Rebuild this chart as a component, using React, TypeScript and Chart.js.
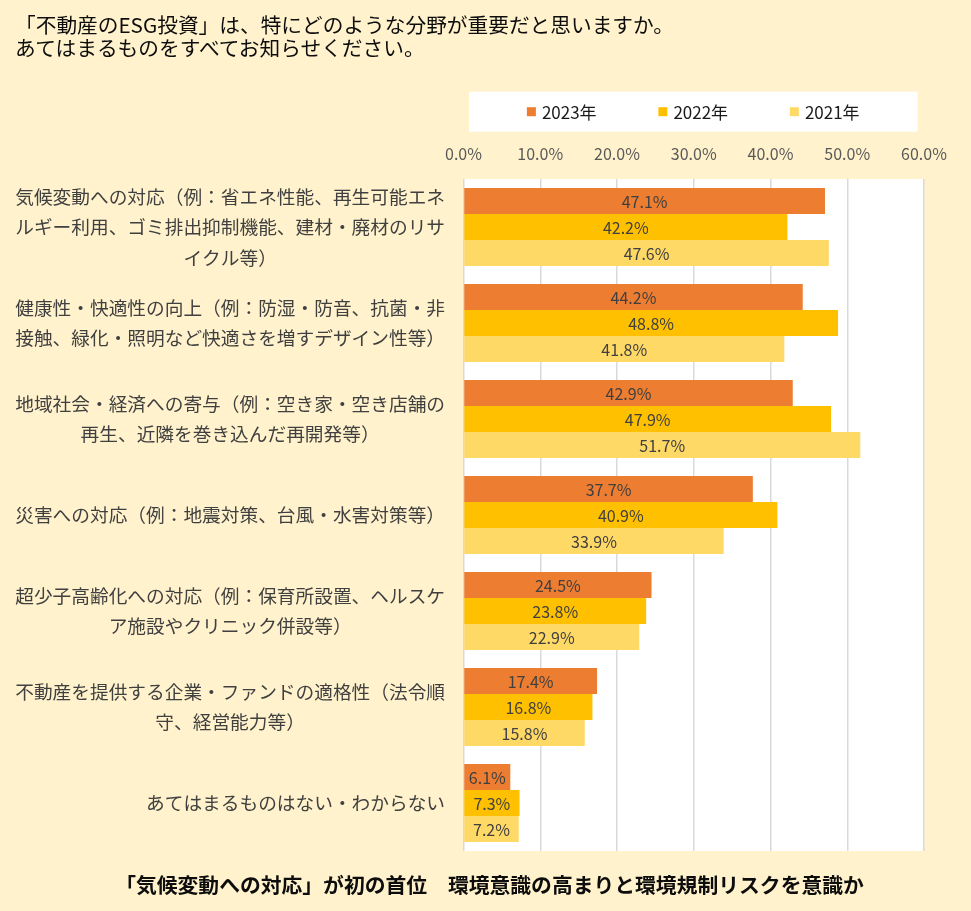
import React, { useEffect, useRef } from 'react';
import { Chart, registerables } from 'chart.js';

Chart.register(...registerables);

const titleLines = [
  '「不動産のESG投資」は、特にどのような分野が重要だと思いますか。',
  'あてはまるものをすべてお知らせください。',
];
const footnote = '「気候変動への対応」が初の首位　環境意識の高まりと環境規制リスクを意識か';

const categories: string[][] = [
  ['気候変動への対応（例：省エネ性能、再生可能エネ', 'ルギー利用、ゴミ排出抑制機能、建材・廃材のリサ', 'イクル等）'],
  ['健康性・快適性の向上（例：防湿・防音、抗菌・非', '接触、緑化・照明など快適さを増すデザイン性等）'],
  ['地域社会・経済への寄与（例：空き家・空き店舗の', '再生、近隣を巻き込んだ再開発等）'],
  ['災害への対応（例：地震対策、台風・水害対策等）'],
  ['超少子高齢化への対応（例：保育所設置、ヘルスケ', 'ア施設やクリニック併設等）'],
  ['不動産を提供する企業・ファンドの適格性（法令順', '守、経営能力等）'],
  ['あてはまるものはない・わからない'],
];

const seriesNames = ['2023年', '2022年', '2021年'];
const values2023 = [47.1, 44.2, 42.9, 37.7, 24.5, 17.4, 6.1];
const values2022 = [42.2, 48.8, 47.9, 40.9, 23.8, 16.8, 7.3];
const values2021 = [47.6, 41.8, 51.7, 33.9, 22.9, 15.8, 7.2];
const seriesColors = ['#ED7D31', '#FFC000', '#FFD966'];
const xTickValues = [0, 10, 20, 30, 40, 50, 60];

const JP = "'Noto Sans CJK JP', 'Noto Sans', sans-serif";

const plotBg = {
  id: 'plotBg',
  beforeDraw(chart: any) {
    const { ctx, chartArea } = chart;
    ctx.save();
    ctx.fillStyle = '#FFFFFF';
    ctx.fillRect(chartArea.left, chartArea.top, chartArea.right - chartArea.left, chartArea.bottom - chartArea.top);
    ctx.restore();
  },
};

const legendBox = {
  id: 'legendBox',
  afterDraw(chart: any) {
    const { ctx, chartArea } = chart;
    const left = chartArea.left + 5.5;
    const right = chartArea.right - 6.5;
    const top = chartArea.top - 87.3;
    const h = 40;
    ctx.save();
    ctx.fillStyle = '#FFFFFF';
    ctx.fillRect(left, top, right - left, h);
    ctx.font = `17px ${JP}`;
    ctx.textBaseline = 'middle';
    ctx.textAlign = 'left';
    const box = 9;
    const gap = 6;
    const slot = 131.5;
    const ds = chart.data.datasets;
    const lastW = box + gap + ctx.measureText(ds[ds.length - 1].label).width;
    const total = slot * (ds.length - 1) + lastW;
    const start = (left + right) / 2 - total / 2;
    const cy = top + h / 2;
    ds.forEach((d: any, i: number) => {
      const x0 = start + i * slot;
      ctx.fillStyle = d.backgroundColor;
      ctx.fillRect(x0, cy - box / 2, box, box);
      ctx.fillStyle = '#1A1A1A';
      ctx.fillText(d.label, x0 + box + gap, cy + 0.5);
    });
    ctx.restore();
  },
};

const yLabels = {
  id: 'yLabels',
  afterDraw(chart: any) {
    const { ctx, chartArea } = chart;
    const yScale = chart.scales.y;
    const labels = chart.data.labels as string[][];
    ctx.save();
    ctx.font = `18.7px ${JP}`;
    ctx.fillStyle = '#404040';
    ctx.textBaseline = 'middle';
    const rightEdge = chartArea.left - 18.5;
    let widest = 0;
    labels.forEach((lines) => lines.forEach((ln) => { widest = Math.max(widest, ctx.measureText(ln).width); }));
    const center = rightEdge - widest / 2;
    const lh = 30.5;
    labels.forEach((lines, i) => {
      const yc = yScale.getPixelForTick(i);
      const y0 = yc - ((lines.length - 1) * lh) / 2;
      lines.forEach((ln, j) => {
        if (lines.length > 1) {
          ctx.textAlign = 'center';
          ctx.fillText(ln, center, y0 + j * lh);
        } else {
          ctx.textAlign = 'right';
          ctx.fillText(ln, rightEdge, y0 + j * lh);
        }
      });
    });
    ctx.restore();
  },
};

const dataLabels = {
  id: 'dataLabels',
  afterDatasetsDraw(chart: any) {
    const { ctx } = chart;
    ctx.save();
    ctx.font = `16px ${JP}`;
    ctx.fillStyle = '#404040';
    ctx.textAlign = 'center';
    ctx.textBaseline = 'middle';
    chart.data.datasets.forEach((ds: any, di: number) => {
      const meta = chart.getDatasetMeta(di);
      meta.data.forEach((bar: any, i: number) => {
        const v = ds.data[i] as number;
        ctx.fillText(v.toFixed(1) + '%', (bar.x + bar.base) / 2, bar.y + 0.5);
      });
    });
    ctx.restore();
  },
};

export default function App() {
  const ref = useRef<HTMLCanvasElement>(null);

  useEffect(() => {
    const seriesValues = [values2023, values2022, values2021];
    const chart = new Chart(ref.current as HTMLCanvasElement, {
      type: 'bar',
      data: {
        labels: categories as any,
        datasets: seriesNames.map((name, i) => ({
          label: name,
          data: seriesValues[i],
          backgroundColor: seriesColors[i],
          borderWidth: 0,
          barPercentage: 1,
          categoryPercentage: 0.8125,
        })),
      },
      options: {
        indexAxis: 'y',
        responsive: false,
        animation: false,
        layout: { padding: { left: 0, right: 47, top: 0, bottom: 60 } },
        plugins: {
          legend: { display: false },
          tooltip: { enabled: false },
          title: { display: false },
        },
        scales: {
          x: {
            type: 'linear',
            position: 'top',
            min: 0,
            max: 60,
            afterBuildTicks: (s: any) => {
              s.ticks = xTickValues.map((v) => ({ value: v }));
            },
            ticks: {
              callback: (v: any) => Number(v).toFixed(1) + '%',
              color: '#595959',
              font: { family: JP, size: 16 },
              padding: 15,
              maxRotation: 0,
              autoSkip: false,
            },
            grid: { color: '#D9D9D9', lineWidth: 1.5, drawTicks: false },
            border: { display: false },
            afterFit: (s: any) => {
              s.height = 179;
            },
          },
          y: {
            type: 'category',
            ticks: { display: false },
            grid: { display: false },
            border: { display: false },
            afterFit: (s: any) => {
              s.width = 463.5;
            },
          },
        },
      },
      plugins: [plotBg, legendBox, yLabels, dataLabels],
    });
    return () => chart.destroy();
  }, []);

  return (
    <div
      style={{
        position: 'absolute',
        left: 0,
        top: 0,
        width: 971,
        height: 911,
        background: '#FFF2CC',
        overflow: 'hidden',
      }}
    >
      <canvas
        ref={ref}
        width={971}
        height={911}
        style={{ position: 'absolute', left: 0, top: 0, width: 971, height: 911 }}
      />
      <div
        style={{
          position: 'absolute',
          left: 15,
          top: 13,
          fontFamily: JP,
          fontSize: 20.7,
          lineHeight: '23px',
          color: '#0D0D0D',
          whiteSpace: 'nowrap',
        }}
      >
        {titleLines.map((l) => (
          <div key={l}>{l}</div>
        ))}
      </div>
      <div
        style={{
          position: 'absolute',
          left: 8,
          top: 872,
          width: 963,
          textAlign: 'center',
          fontFamily: JP,
          fontSize: 20.8,
          fontWeight: 700,
          lineHeight: '24px',
          color: '#0D0D0D',
          whiteSpace: 'nowrap',
        }}
      >
        {footnote}
      </div>
    </div>
  );
}
